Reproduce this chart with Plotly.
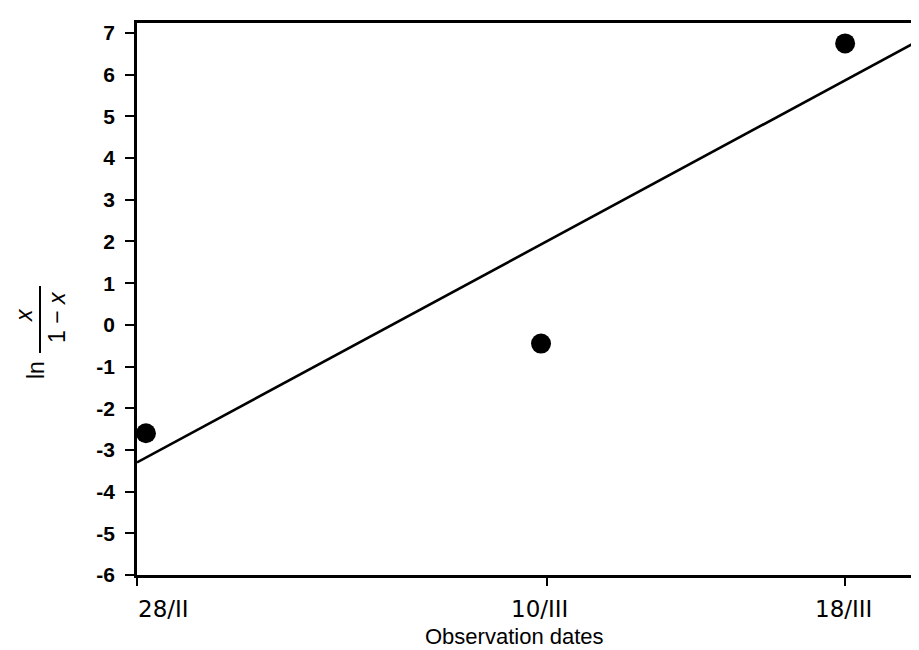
import plotly.graph_objects as go

# Days after 28 February (leap year: 28/II = 0, 10/III = 11, 18/III = 19)
obs_days = [0.24, 10.84, 19.0]
obs_logit = [-2.6, -0.45, 6.75]

fit_days = [0.0, 21.0]
fit_logit = [-3.3, 6.83]

date_tick_days = [0, 11, 19]
date_tick_labels = ["28/II", "10/III", "18/III"]
date_label_days = [0.72, 10.8, 18.95]

y_ticks = [-6, -5, -4, -3, -2, -1, 0, 1, 2, 3, 4, 5, 6, 7]
y_tick_labels = [str(v) for v in y_ticks]

FONT = "Liberation Sans, Arial, sans-serif"
FONT2 = "DejaVu Sans, sans-serif"

fig = go.Figure()
fig.add_trace(go.Scatter(x=fit_days, y=fit_logit, mode="lines",
                         line=dict(color="black", width=2.6),
                         hoverinfo="skip", showlegend=False))
fig.add_trace(go.Scatter(x=obs_days, y=obs_logit, mode="markers",
                         marker=dict(color="black", size=20),
                         cliponaxis=False, showlegend=False))

W, H = 919, 650
L, R, T, B = 129, 0, 15, 83
pw, ph = W - L - R, H - T - B


def px(xp):
    return (xp - L) / pw


def py(yp):
    return (H - B - yp) / ph


annotations = []
for d, lab in zip(date_label_days, date_tick_labels):
    annotations.append(dict(x=d, y=py(601), xref="x", yref="paper", text=lab,
                            showarrow=False, font=dict(family=FONT2, size=23, color="black"),
                            xanchor="center", yanchor="middle"))
annotations.append(dict(x=px(506), y=py(628), xref="paper", yref="paper",
                        text="Observation dates", showarrow=False,
                        font=dict(family=FONT, size=22, color="black"),
                        xanchor="center", yanchor="middle"))
# y axis title: ln x/(1-x), rotated
annotations.append(dict(x=px(28), y=py(362), xref="paper", yref="paper", text="ln",
                        textangle=-90, showarrow=False,
                        font=dict(family=FONT, size=23, color="black"),
                        xanchor="center", yanchor="middle"))
annotations.append(dict(x=px(16), y=py(307), xref="paper", yref="paper", text="<i>x</i>",
                        textangle=-90, showarrow=False,
                        font=dict(family=FONT, size=23, color="black"),
                        xanchor="center", yanchor="middle"))
annotations.append(dict(x=px(49), y=py(309), xref="paper", yref="paper", text="1 − <i>x</i>",
                        textangle=-90, showarrow=False,
                        font=dict(family=FONT, size=23, color="black"),
                        xanchor="center", yanchor="middle"))

shapes = [dict(type="line", xref="paper", yref="paper",
               x0=px(32), x1=px(32), y0=py(278), y1=py(345),
               line=dict(color="black", width=2))]

fig.update_layout(
    width=W, height=H,
    margin=dict(l=L, r=R, t=T, b=B),
    paper_bgcolor="white", plot_bgcolor="white",
    showlegend=False,
    annotations=annotations,
    shapes=shapes,
    xaxis=dict(range=[0, (W - L) / 37.27], tickvals=date_tick_days,
               ticktext=["" for _ in date_tick_labels],
               showgrid=False, zeroline=False, showline=True, linecolor="black",
               linewidth=2.5, mirror=True, ticks="outside", ticklen=8,
               tickwidth=2, tickcolor="black"),
    yaxis=dict(range=[-6, 7.24], tickvals=y_ticks, ticktext=y_tick_labels,
               showgrid=False, zeroline=False, showline=True, linecolor="black",
               linewidth=2.5, ticks="outside", ticklen=9, tickwidth=2,
               tickcolor="black", ticklabelstandoff=6,
               tickfont=dict(family=FONT, size=21, color="black", weight="bold")),
)

fig.write_html("out.html")
